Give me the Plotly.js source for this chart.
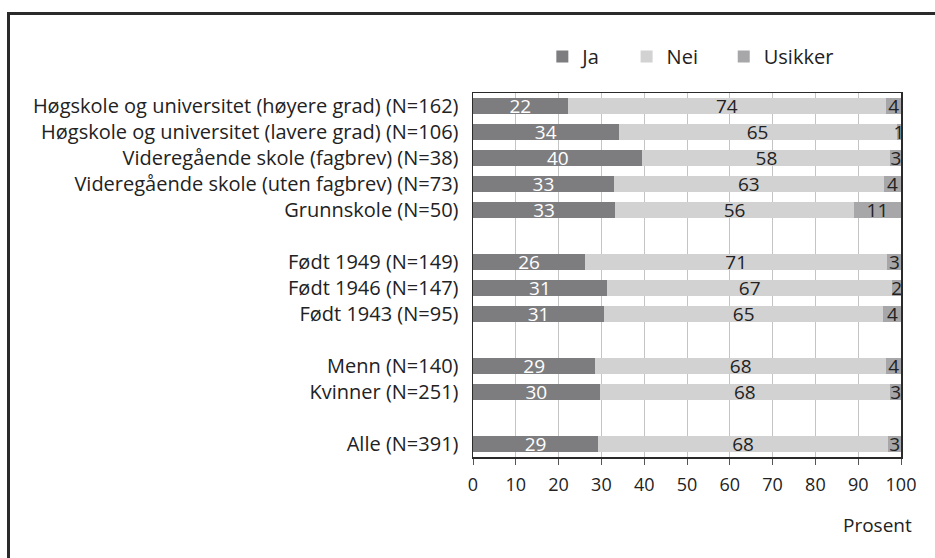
<!DOCTYPE html>
<html>
<head>
<meta charset="utf-8">
<script src="https://cdn.plot.ly/plotly-3.0.1.min.js"></script>
<style>
  html, body { margin: 0; padding: 0; background: #fff; }
  #wrap { position: relative; width: 935px; height: 558px; overflow: hidden; }
  #chart { position: absolute; left: 0; top: 0; width: 935px; height: 558px; }
  #frame { position: absolute; left: 7px; top: 12px; width: 1000px; height: 600px;
           border-left: 3px solid #2a2a2a; border-top: 3px solid #2a2a2a; pointer-events: none; }
</style>
</head>
<body>
<div id="wrap">
  <div id="chart"></div>
  <div id="frame"></div>
</div>
<script>
// Categories top-to-bottom; blank strings are spacer rows between groups
const categories = [
  'Høgskole og universitet (høyere grad) (N=162)',
  'Høgskole og universitet (lavere grad) (N=106)',
  'Videregående skole (fagbrev) (N=38)',
  'Videregående skole (uten fagbrev) (N=73)',
  'Grunnskole (N=50)',
  ' ',
  'Født 1949 (N=149)',
  'Født 1946 (N=147)',
  'Født 1943 (N=95)',
  '  ',
  'Menn (N=140)',
  'Kvinner (N=251)',
  '   ',
  'Alle (N=391)'
];
const ja      = [22.1, 34.0, 39.6, 32.9, 33.2, null, 26.2, 31.3, 30.6, null, 28.6, 29.6, null, 29.2];
const nei     = [74.4, 65.0, 57.9, 63.1, 55.8, null, 70.6, 66.7, 65.3, null, 67.9, 67.8, null, 67.8];
const usikker = [ 3.6,  1.0,  2.6,  4.0, 11.0, null,  3.3,  2.0,  4.2, null,  3.6,  2.7, null,  3.0];
const seriesNames = ['Ja', 'Nei', 'Usikker'];
const xTicks = [0, 10, 20, 30, 40, 50, 60, 70, 80, 90, 100];

const FONT = 'Open Sans, Noto Sans, sans-serif';
const colors = ['#7d7d80', '#d2d2d3', '#a7a7a9'];
const textColors = ['#ffffff', '#222222', '#222222'];
const legendPad = ['\u00a0\u00a0\u00a0\u00a0', '\u00a0\u00a0\u00a0\u00a0', ''];
const values = [ja, nei, usikker];

const traces = values.map((v, i) => ({
  type: 'bar',
  orientation: 'h',
  name: seriesNames[i] + legendPad[i],
  y: categories,
  x: v,
  marker: { color: colors[i], line: { width: 0 } },
  texttemplate: '%{x:.0f}',
  textposition: 'inside',
  insidetextanchor: 'middle',
  textangle: 0,
  constraintext: 'none',
  insidetextfont: { family: FONT, size: 19, color: textColors[i] },
  hoverinfo: 'skip'
}));

const layout = {
  width: 935, height: 558,
  margin: { l: 473, r: 34, t: 93, b: 101, autoexpand: false },
  paper_bgcolor: '#ffffff',
  plot_bgcolor: '#ffffff',
  barmode: 'stack',
  bargap: 0.42,
  font: { family: FONT, size: 18, color: '#222222' },
  showlegend: true,
  legend: {
    orientation: 'h',
    x: 0.162, xanchor: 'left',
    y: 1.10, yanchor: 'middle',
    font: { family: FONT, size: 20, color: '#222222' },
    traceorder: 'normal',
    itemwidth: 30,
    bgcolor: 'rgba(0,0,0,0)'
  },
  xaxis: {
    range: [0, 100],
    tickvals: xTicks,
    ticktext: xTicks.map(String),
    showgrid: true,
    gridcolor: '#c4c4c4',
    gridwidth: 1,
    zeroline: false,
    showline: true,
    linecolor: '#2a2a2a',
    linewidth: 1.5,
    mirror: true,
    ticks: 'outside',
    ticklen: 6,
    tickcolor: '#555555',
    ticklabelstandoff: 5,
    tickfont: { family: FONT, size: 18, color: '#222222' },
    fixedrange: true
  },
  yaxis: {
    type: 'category',
    categoryorder: 'array',
    categoryarray: categories,
    range: [categories.length - 0.5, -0.5],
    showgrid: false,
    zeroline: false,
    showline: true,
    linecolor: '#2a2a2a',
    linewidth: 1.5,
    mirror: true,
    ticks: '',
    ticklabelstandoff: 9,
    tickfont: { family: FONT, size: 20, color: '#222222' },
    fixedrange: true
  },
  annotations: [{
    text: 'Prosent',
    xref: 'paper', yref: 'paper',
    x: 0.944, y: -0.187,
    xanchor: 'center', yanchor: 'middle',
    showarrow: false,
    font: { family: FONT, size: 19, color: '#222222' }
  }]
};

Plotly.newPlot('chart', traces, layout, { displayModeBar: false, staticPlot: true });
</script>
</body>
</html>
